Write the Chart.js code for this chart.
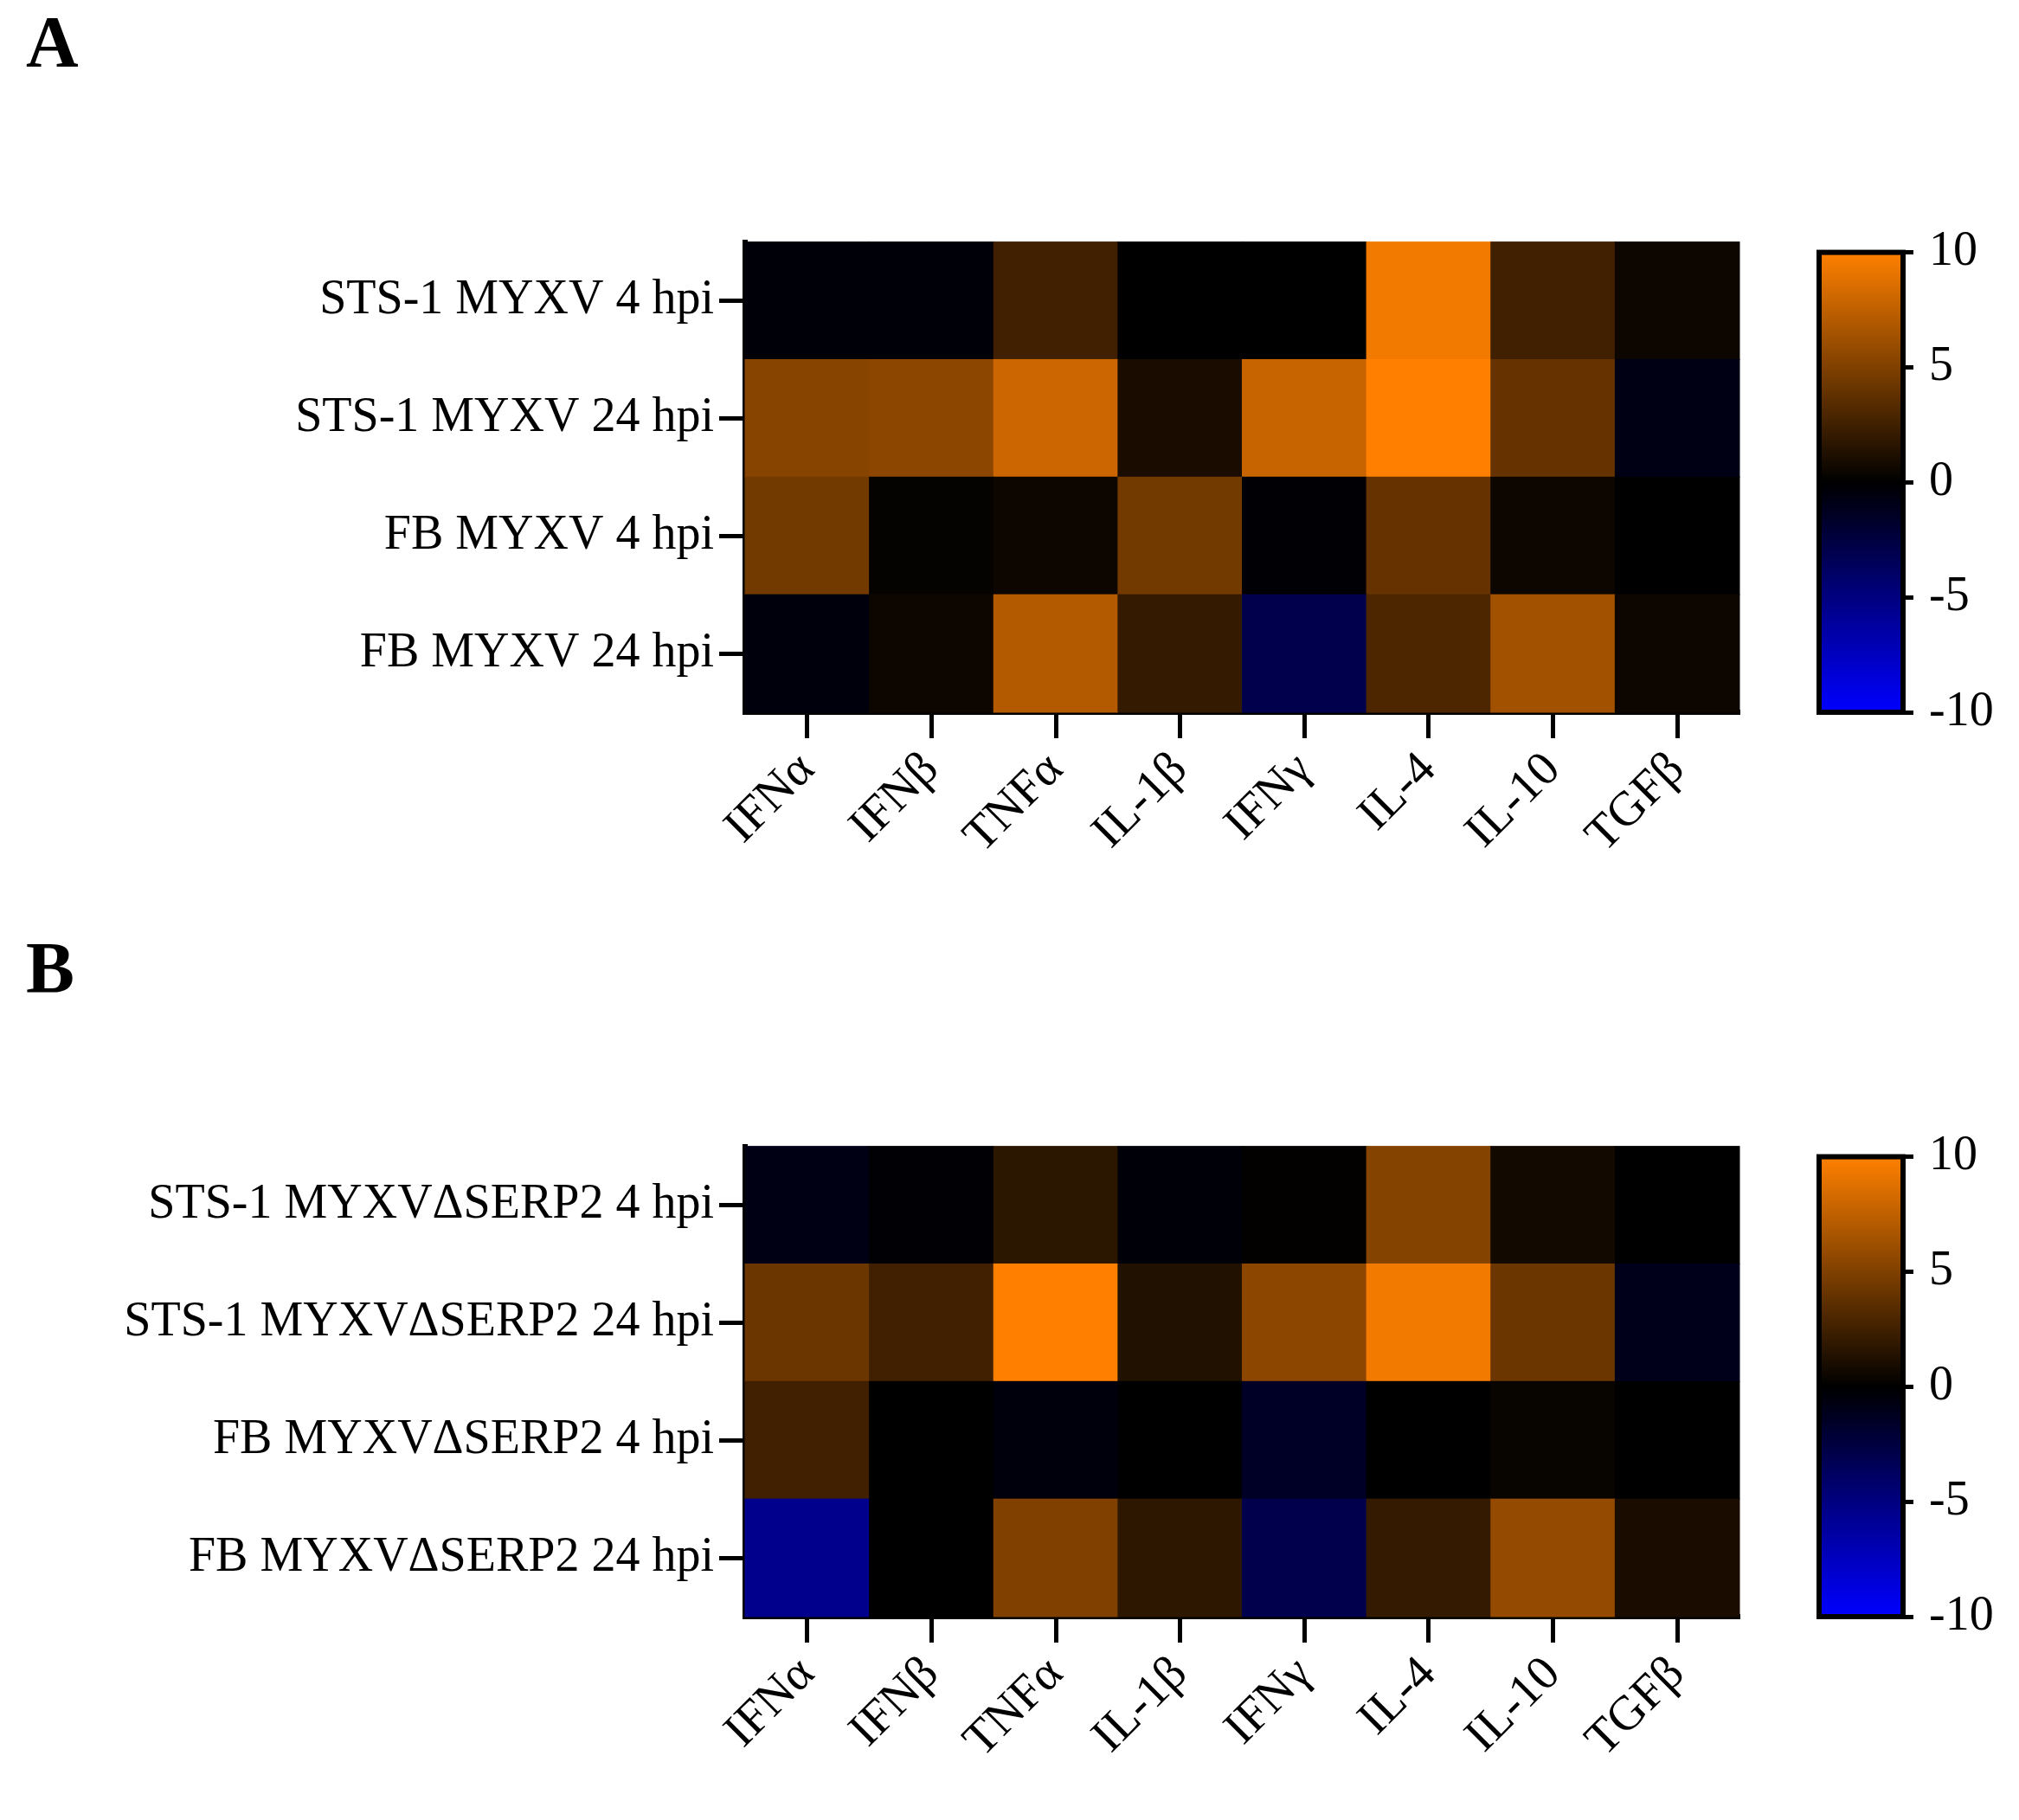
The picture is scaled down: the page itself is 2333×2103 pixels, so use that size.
<!DOCTYPE html>
<html><head><meta charset="utf-8">
<script src="https://cdn.jsdelivr.net/npm/chart.js@4"></script>
<style>
body{margin:0;background:#fff;width:2333px;height:2103px;position:relative;overflow:hidden;font-family:"Liberation Serif",serif}
.box{position:absolute}
.lab{position:absolute;font-weight:bold;font-size:84px;font-family:"Liberation Serif",serif}
</style></head><body>
<div class="lab" style="left:30px;top:0px">A</div>
<div class="lab" style="left:30px;top:1070px">B</div>
<div class="box" style="left:0;top:240px;width:2020px;height:830px"><canvas id="hA"></canvas></div>
<div class="box" style="left:2060px;top:240px;width:273px;height:830px"><canvas id="cA"></canvas></div>
<div class="box" style="left:0;top:1285px;width:2020px;height:830px"><canvas id="hB"></canvas></div>
<div class="box" style="left:2060px;top:1285px;width:273px;height:830px"><canvas id="cB"></canvas></div>
<script>
const cytokines = ["IFNα","IFNβ","TNFα","IL-1β","IFNγ","IL-4","IL-10","TGFβ"];
const rowsA = ["STS-1 MYXV 4 hpi","STS-1 MYXV 24 hpi","FB MYXV 4 hpi","FB MYXV 24 hpi"];
const rowsB = ["STS-1 MYXVΔSERP2 4 hpi","STS-1 MYXVΔSERP2 24 hpi","FB MYXVΔSERP2 4 hpi","FB MYXVΔSERP2 24 hpi"];
const valuesA = [
  [-0.3,-0.3,2.5,0,0,9.5,2.5,0.5],
  [5.3,5.5,8,1,7.8,10,4,-0.8],
  [4.5,0.2,0.5,4.5,-0.2,4,0.5,0],
  [-0.5,0.5,7,2,-3,3,6.3,0.5]
];
const valuesB = [
  [-0.8,-0.2,1.7,-0.3,0.1,5.2,0.7,0],
  [4.2,2.5,10,1.3,5.5,9.5,4.2,-1],
  [2.5,0,-0.5,0,-1.5,0,0.3,0],
  [-5.5,0,5,1.8,-3,2,5.8,1]
];
const colorTicks = [10,5,0,-5,-10];
function col(v){
  const t=Math.max(-1,Math.min(1,v/10));
  if(t>=0) return `rgb(${Math.round(255*t)},${Math.round(128*t)},0)`;
  return `rgb(0,0,${Math.round(-255*t)})`;
}
const F={family:"Liberation Serif",size:56};
const cellPlugin={id:'cells',beforeDatasetsDraw(ch){
  const {ctx,scales:{x,y}}=ch; const vals=ch.config.options.plugins.cells.values;
  const w=x.getPixelForValue(1)-x.getPixelForValue(0), h=y.getPixelForValue(1)-y.getPixelForValue(0);
  ch.data.datasets[0].data.forEach((d,k)=>{
    const px=x.getPixelForValue(d.x), py=y.getPixelForValue(d.y);
    ctx.fillStyle=col(vals[d.y][d.x]);
    ctx.fillRect(px-w/2-0.5,py-h/2-0.5,w+1,h+1);
  });
}};
function heat(id,rows,vals){
  const data=[];rows.forEach((r,i)=>cytokines.forEach((c,j)=>data.push({x:j,y:i})));
  new Chart(document.getElementById(id),{type:'scatter',plugins:[cellPlugin],
    data:{datasets:[{data,pointRadius:0}]},
    options:{responsive:true,maintainAspectRatio:false,animation:false,
      layout:{padding:{top:10,right:10}},
      plugins:{legend:{display:false},tooltip:{enabled:false},cells:{values:vals}},
      scales:{
        x:{type:'category',labels:cytokines,offset:true,
          border:{color:'#000',width:6},
          grid:{offset:false,drawOnChartArea:false,drawTicks:true,tickLength:30,tickWidth:5,color:'#000'},
          ticks:{color:'#000',font:F,maxRotation:45,minRotation:45,padding:4},
          afterFit(s){s.height=247;}},
        y:{type:'category',labels:rows,offset:true,
          border:{color:'#000',width:6},
          grid:{offset:false,drawOnChartArea:false,drawTicks:true,tickLength:30,tickWidth:5,color:'#000'},
          ticks:{color:'#000',font:F,padding:6},
          afterFit(s){s.width=861;}}
      }}});
}
const barPlugin={id:'cbar',beforeDatasetsDraw(ch){
  const {ctx,chartArea:a,scales:{y}}=ch;
  const g=ctx.createLinearGradient(0,y.getPixelForValue(10),0,y.getPixelForValue(-10));
  g.addColorStop(0,col(10));g.addColorStop(0.5,col(0));g.addColorStop(1,col(-10));
  ctx.fillStyle=g;ctx.fillRect(a.left,a.top,a.right-a.left,a.bottom-a.top);
  ctx.strokeStyle='#000';ctx.lineWidth=6;ctx.strokeRect(a.left,a.top,a.right-a.left,a.bottom-a.top);
}};
function cbar(id){
  new Chart(document.getElementById(id),{type:'bar',plugins:[barPlugin],
    data:{labels:[''],datasets:[{data:[]}]},
    options:{responsive:true,maintainAspectRatio:false,animation:false,
      layout:{padding:{top:10,bottom:247,left:42}},
      plugins:{legend:{display:false},tooltip:{enabled:false}},
      scales:{x:{display:false},
        y:{position:'right',min:-10,max:10,
          afterBuildTicks(s){s.ticks=colorTicks.map(v=>({value:v}));},
          border:{display:false},
          grid:{drawOnChartArea:false,tickLength:12,tickWidth:5,color:'#000'},
          ticks:{color:'#000',font:F,padding:18},
          afterFit(s){s.width=134;}}}}});
}
heat('hA',rowsA,valuesA);cbar('cA');
heat('hB',rowsB,valuesB);cbar('cB');
</script></body></html>
